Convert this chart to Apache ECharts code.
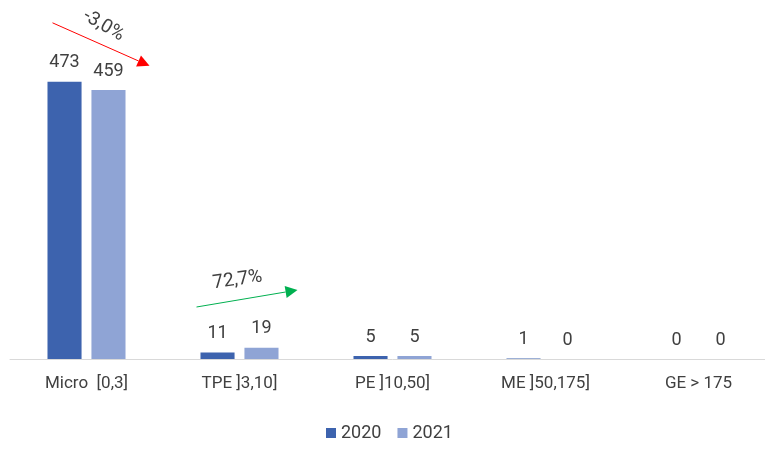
<!DOCTYPE html>
<html><head><meta charset="utf-8">
<script src="https://cdn.jsdelivr.net/npm/echarts@6/dist/echarts.min.js"></script>
<style>html,body{margin:0;padding:0;background:#fff;overflow:hidden}#c{width:785px;height:450px}</style>
</head><body><div id="c"></div>
<script>
const categories = ['Micro  [0,3]', 'TPE ]3,10]', 'PE ]10,50]', 'ME ]50,175]', 'GE > 175'];
const values2020 = [473, 11, 5, 1, 0];
const values2021 = [459, 19, 5, 0, 0];
const seriesNames = ['2020', '2021'];
const FONT = "Roboto, 'Open Sans', sans-serif";
const chart = echarts.init(document.getElementById('c'));
const option = {
  animation: false,
  textStyle: { fontFamily: FONT },
  color: ['#3D63AE', '#8FA4D5'],
  grid: { left: 10, width: 765, top: 66, bottom: 91, containLabel: false },
  legend: {
    bottom: 3, left: 321, itemWidth: 10, itemHeight: 10, itemGap: 16,
    icon: 'rect',
    textStyle: { fontSize: 18, color: '#404040', fontFamily: FONT }
  },
  xAxis: {
    type: 'category', data: categories,
    axisLine: { lineStyle: { color: '#D9D9D9' } },
    axisTick: { show: false },
    axisLabel: { fontSize: 17, color: '#404040', margin: 16, fontFamily: FONT }
  },
  yAxis: { type: 'value', min: 0, max: 500, show: false, splitLine: { show: false } },
  series: [
    { name: seriesNames[0], type: 'bar', data: values2020, barGap: '29%', barCategoryGap: '49%',
      label: { show: true, position: 'top', distance: 10, fontSize: 18, color: '#404040', fontFamily: FONT } },
    { name: seriesNames[1], type: 'bar', data: values2021,
      label: { show: true, position: 'top', distance: 10, fontSize: 18, color: '#404040', fontFamily: FONT } }
  ]
};
chart.setOption(option);

function arrow(p0, p1, color, text, rot, tp) {
  const ang = Math.atan2(p1[1] - p0[1], p1[0] - p0[0]);
  const L = 12, W = 6;
  const bx = p1[0] - L * Math.cos(ang), by = p1[1] - L * Math.sin(ang);
  const nx = -Math.sin(ang) * W, ny = Math.cos(ang) * W;
  return [
    { type: 'line', shape: { x1: p0[0], y1: p0[1], x2: bx, y2: by }, style: { stroke: color, lineWidth: 1 } },
    { type: 'polygon', shape: { points: [[p1[0], p1[1]], [bx + nx, by + ny], [bx - nx, by - ny]] }, style: { fill: color } },
    { type: 'text', x: tp[0], y: tp[1], rotation: rot,
      style: { text: text, fontSize: 19, fill: '#404040', fontFamily: FONT, align: 'center', verticalAlign: 'middle' } }
  ];
}
const a = chart.convertToPixel({ seriesIndex: 0 }, [0, values2020[0]]);
const b = chart.convertToPixel({ seriesIndex: 0 }, [1, 0]);
chart.setOption({
  graphic: [].concat(
    arrow([a[0] - 34, a[1] - 59], [a[0] + 63, a[1] - 16], '#FF0000', '-3,0%', -0.52, [a[0] + 17, a[1] - 56]),
    arrow([b[0] - 43, b[1] - 52], [b[0] + 58, b[1] - 69], '#00B050', '72,7%', 0.14, [b[0] - 2, b[1] - 79])
  )
});
</script></body></html>
